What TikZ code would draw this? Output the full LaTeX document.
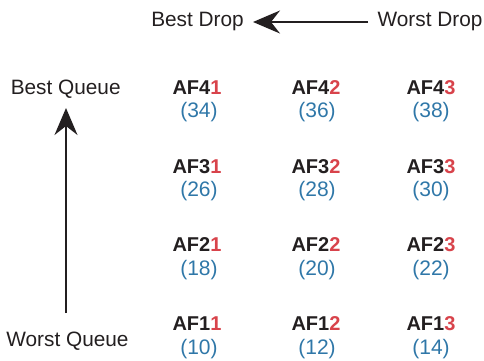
\documentclass[tikz,border=0pt]{standalone}
\usepackage{fontspec}
\setmainfont{Liberation Sans}
\usetikzlibrary{arrows.meta}
\definecolor{afred}{HTML}{D8434B}
\definecolor{afblue}{HTML}{2F77A8}
\definecolor{txt}{HTML}{231F20}
\begin{document}
\begin{tikzpicture}[x=1pt,y=1pt,
  lbl/.style={font=\fontsize{20.8}{24}\selectfont, text=txt, inner sep=0pt},
  af/.style={font=\fontsize{20}{24}\selectfont\bfseries, text=txt, inner sep=0pt},
  num/.style={font=\fontsize{21}{24}\selectfont, text=afblue, inner sep=0pt},
  arr/.style={line width=1.6pt, draw=txt, -{Stealth[length=27pt,width=23pt,inset=9pt]}}]
\useasboundingbox (0,0) rectangle (484,360);
\node[lbl] (bd) at (197.5,338) {Best Drop};
\node[lbl] (wd) at (430,338) {Worst Drop};
\coordinate (ws) at (368,338);
\coordinate (we) at (253,338);
\draw[arr] (ws) -- (we);
\node[lbl] (bq) at (65.7,270.5) {Best Queue};
\node[lbl] (wq) at (67.5,19) {Worst Queue};
\coordinate (qs) at (66,47);
\coordinate (qe) at (66,252);
\draw[arr] (qs) -- (qe);
\foreach \r/\y/\a/\b/\c in {4/272.5/34/36/38, 3/193.8/26/28/30, 2/115.1/18/20/22, 1/36.4/10/12/14}{
  \node[af] (a\r1) at (197,\y) {AF\r\textcolor{afred}{1}};
  \node[af] (a\r2) at (316,\y) {AF\r\textcolor{afred}{2}};
  \node[af] (a\r3) at (431,\y) {AF\r\textcolor{afred}{3}};
  \node[num] (n\r1) at (199,\y-25) {(\a)};
  \node[num] (n\r2) at (317,\y-25) {(\b)};
  \node[num] (n\r3) at (431,\y-25) {(\c)};
}
\end{tikzpicture}
\end{document}
